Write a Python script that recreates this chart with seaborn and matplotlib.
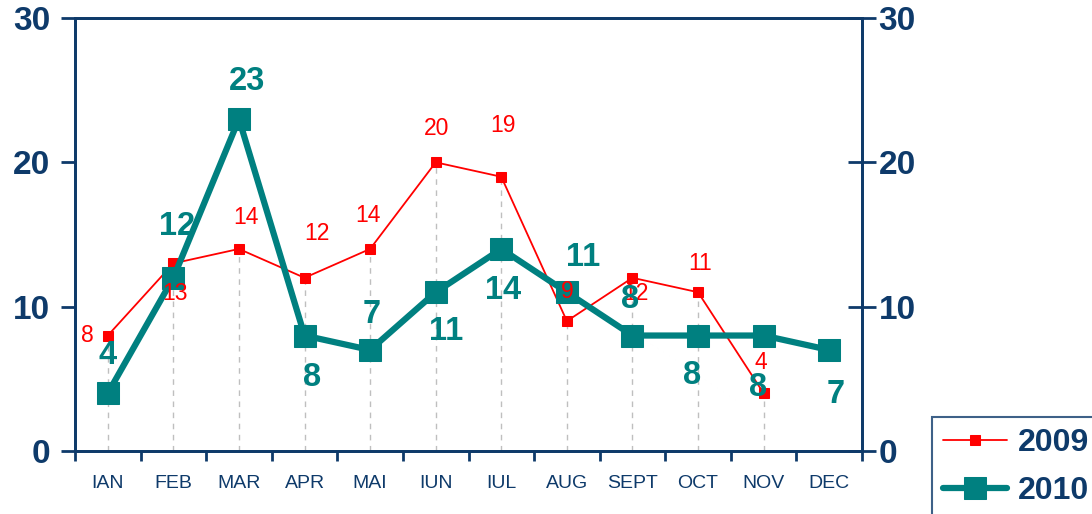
import numpy as np
import pandas as pd
import matplotlib
matplotlib.use("Agg")
import matplotlib.pyplot as plt
import seaborn as sns

months = ["IAN", "FEB", "MAR", "APR", "MAI", "IUN", "IUL", "AUG", "SEPT", "OCT", "NOV", "DEC"]
v2009 = [8, 13, 14, 12, 14, 20, 19, 9, 12, 11, 4, np.nan]
v2010 = [4, 12, 23, 8, 7, 11, 14, 11, 8, 8, 8, 7]
yticks = [0, 10, 20, 30]

# label offsets in pixels (dx, dy) relative to the point; positive dy = up
off2009 = [(-20, 0), (2, -30), (7, 31), (12, 44), (-2, 33), (1, 34), (2, 51), (0, 30), (3, -16), (2, 29), (-3, 31), (0, 0)]
off2010 = [(0, 38), (4, 51), (8, 38), (8, -42), (2, 35), (10, -39), (2, -42), (16, 35), (-2, 36), (-6, -40), (-6, -52), (6, -45)]

NAVY = "#0E3A6A"
TEAL = "#008080"
RED = "#FF0000"

sns.set_theme(style="white")
plt.rcParams['font.family'] = ['Liberation Sans', 'DejaVu Sans']

df = pd.DataFrame({"x": np.arange(len(months)), "2009": v2009, "2010": v2010})

fig = plt.figure(figsize=(10.92, 5.14), dpi=100)
ax = fig.add_axes([75 / 1092, 63 / 514, (862 - 75) / 1092, (451 - 18) / 514])

# drop lines from 2009 points
d9 = df.dropna(subset=["2009"])
ax.vlines(d9["x"], 0, d9["2009"], colors="#BFBFBF", linestyles=(0, (4, 4)), linewidth=1.0, zorder=1)

sns.lineplot(data=df, x="x", y="2009", ax=ax, color=RED, linewidth=1.3, marker="s",
             markersize=7, markeredgecolor=RED, label="2009", zorder=3)
sns.lineplot(data=df, x="x", y="2010", ax=ax, color=TEAL, linewidth=4.5, marker="s",
             markersize=16, markeredgecolor=TEAL, label="2010", zorder=4)

px2pt = 0.72
for i, v in enumerate(v2009):
    if np.isnan(v):
        continue
    dx, dy = off2009[i]
    ax.annotate(f"{int(v)}", (i, v), xytext=(dx * px2pt, dy * px2pt), textcoords="offset points",
                ha="center", va="center", color=RED, fontsize=16.5, zorder=5)
for i, v in enumerate(v2010):
    dx, dy = off2010[i]
    ax.annotate(f"{int(v)}", (i, v), xytext=(dx * px2pt, dy * px2pt), textcoords="offset points",
                ha="center", va="center", color=TEAL, fontsize=23.5, fontweight="bold", zorder=5)

ax.set_xlim(-0.5, len(months) - 0.5)
ax.set_ylim(0, 30)
ax.set_xlabel("")
ax.set_ylabel("")
ax.set_xticks(np.arange(-0.5, len(months)))
ax.set_xticklabels([])
ax.set_xticks(np.arange(len(months)), minor=True)
ax.set_xticklabels(months, minor=True, fontsize=14, color=NAVY)
ax.tick_params(axis="x", which="major", direction="out", length=7, width=2, color=NAVY, bottom=True)
ax.tick_params(axis="x", which="minor", length=0, pad=17)
ax.set_yticks(yticks)
ax.set_yticklabels([str(t) for t in yticks], fontsize=24, fontweight="bold", color=NAVY)
ax.tick_params(axis="y", direction="out", length=10, width=2, color=NAVY, left=True, pad=8)
for s in ax.spines.values():
    s.set_color(NAVY)
    s.set_linewidth(2)
ax.get_legend().remove()

ax2 = ax.twinx()
ax2.set_ylim(0, 30)
ax2.set_yticks(yticks)
ax2.set_yticklabels([str(t) for t in yticks], fontsize=24, fontweight="bold", color=NAVY)
ax2.tick_params(axis="y", direction="inout", length=20, width=2, color=NAVY, right=True, pad=2)
for s in ax2.spines.values():
    s.set_color(NAVY)
    s.set_linewidth(2)

handles, labels = ax.get_legend_handles_labels()
leg = fig.legend(handles, labels, loc="upper left", bbox_to_anchor=(932 / 1092, (514 - 417) / 514),
                 frameon=True, fancybox=False, prop={"size": 23, "weight": "bold"},
                 handlelength=2.0, borderpad=0.35, labelspacing=0.55, handletextpad=0.35,
                 borderaxespad=0)
leg.get_frame().set_edgecolor(NAVY)
leg.get_frame().set_linewidth(1.5)
for t in leg.get_texts():
    t.set_color(NAVY)

fig.savefig("out.png", dpi=100)
